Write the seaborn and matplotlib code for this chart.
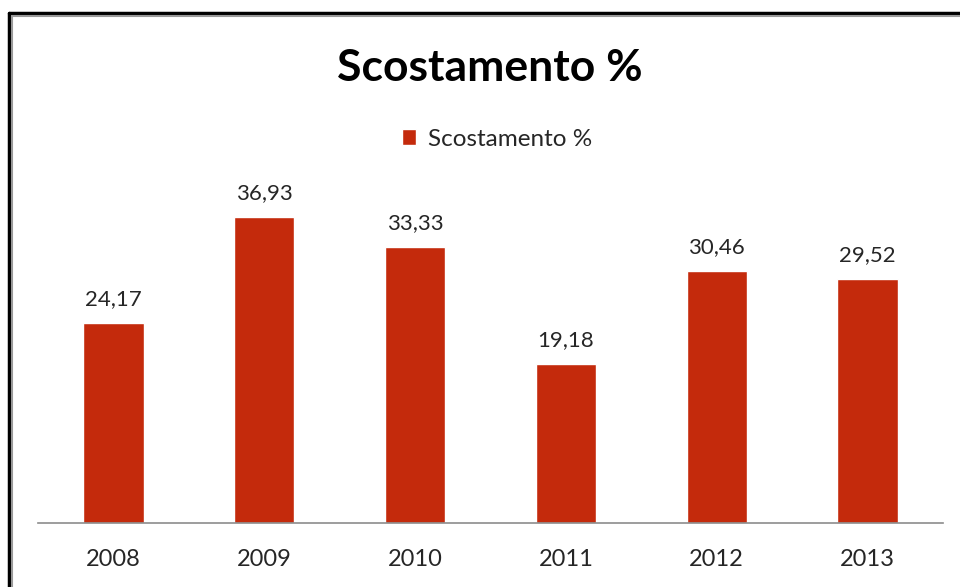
import pandas as pd
import matplotlib.pyplot as plt
import seaborn as sns
from matplotlib.lines import Line2D
from matplotlib.patches import Patch

# Dati
anni = ['2008', '2009', '2010', '2011', '2012', '2013']
scostamento = [24.17, 36.93, 33.33, 19.18, 30.46, 29.52]
serie = 'Scostamento %'

df = pd.DataFrame({'anno': anni, 'valore': scostamento})

sns.set_style('white')
plt.rcParams['font.family'] = ['Lato', 'DejaVu Sans']

colore = '#C42A0C'

fig = plt.figure(figsize=(9.6, 5.87), dpi=100)
ax = fig.add_axes([38 / 960, 64 / 587, 905 / 960, 331 / 587])

sns.barplot(data=df, x='anno', y='valore', color=colore, width=0.4,
            saturation=1, ax=ax)

ax.set_ylim(0, 40)
ax.set_xlim(-0.5, len(anni) - 0.5)

# etichette valori
for i, v in enumerate(scostamento):
    ax.annotate(f'{v:.2f}'.replace('.', ','), (i, v), xytext=(0, 10),
                textcoords='offset points', ha='center', va='bottom',
                fontsize=16, color='#262626')

ax.set_xlabel('')
ax.set_ylabel('')
ax.set_yticks([])
ax.tick_params(axis='x', length=0, pad=19, labelsize=17, labelcolor='#262626')
for s in ['top', 'left', 'right']:
    ax.spines[s].set_visible(False)
ax.spines['bottom'].set_color('#8c8c8c')
ax.spines['bottom'].set_linewidth(1.2)

# titolo e legenda
fig.text(490 / 960, 1 - 68 / 587, 'Scostamento %', ha='center', va='center',
         fontsize=32, fontweight='bold', color='black')
fig.legend(handles=[Patch(facecolor=colore, label=serie)], loc='center',
           bbox_to_anchor=(497 / 960, 1 - 139 / 587), frameon=False,
           fontsize=17.5, handlelength=0.6, handleheight=0.6, handletextpad=0.5,
           labelcolor='#262626')

# bordo
fig.add_artist(Line2D([9 / 960, 1.01], [1 - 13 / 587, 1 - 13 / 587],
                      color='black', lw=2.5, transform=fig.transFigure))
fig.add_artist(Line2D([9 / 960, 9 / 960], [-0.01, 1 - 13 / 587],
                      color='black', lw=2.5, transform=fig.transFigure))
fig.add_artist(Line2D([11.5 / 960, 1.01], [1 - 15.5 / 587, 1 - 15.5 / 587],
                      color='#999999', lw=1.5, transform=fig.transFigure))
fig.add_artist(Line2D([11.5 / 960, 11.5 / 960], [-0.01, 1 - 15.5 / 587],
                      color='#999999', lw=1.5, transform=fig.transFigure))

fig.savefig('out.png', dpi=100)
